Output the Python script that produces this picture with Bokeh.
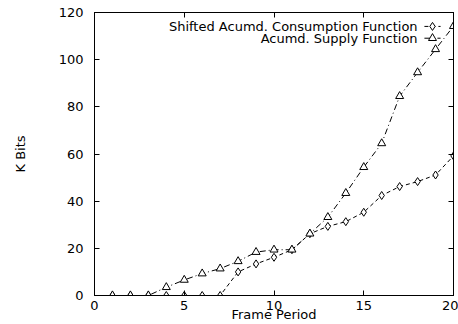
from bokeh.plotting import figure
from bokeh.models import LinearAxis, FixedTicker, Range1d, Label
from bokeh.embed import file_html
from bokeh.resources import INLINE

frames = list(range(1, 21))
consumption = [0, 0, 0, 0, 0, 0, 0, 10, 13.4, 16.2, 19.4, 26.2, 29.3, 31.3, 35.3, 42.4, 46.2, 48.3, 51.1, 59.2]
supply = [0, 0, 0, 3.5, 6.6, 9.3, 11.4, 14.5, 18.4, 19.4, 19.4, 26.2, 33.2, 43.4, 54.4, 64.5, 84.5, 94.6, 104.4, 114.2]
x_ticks = [0, 5, 10, 15, 20]
y_ticks = [0, 20, 40, 60, 80, 100, 120]
series_names = ["Shifted Acumd. Consumption Function", "Acumd. Supply Function"]

# legend layout (data units)
leg_text_x = 18.0
leg_ys = [114.1, 109.1]
leg_x0, leg_x1, leg_xm = 18.38, 19.28, 18.83

FONT = "DejaVu Sans"
FS = "13px"

p = figure(width=458, height=324, output_backend="svg", toolbar_location=None,
           x_range=Range1d(0, 20), y_range=Range1d(0, 120),
           min_border_left=94, min_border_right=5, min_border_top=12, min_border_bottom=28,
           x_axis_label="Frame Period", y_axis_label="K Bits")
p.outline_line_color = "black"
p.grid.visible = False
p.background_fill_color = "white"

for ax in p.xaxis + p.yaxis:
    ax.major_tick_in = 5
    ax.major_tick_out = 0
    ax.minor_tick_line_color = None
    ax.axis_line_color = "black"
    ax.major_label_text_font = FONT
    ax.major_label_text_font_size = FS
    ax.major_label_text_color = "black"
    ax.axis_label_text_font = FONT
    ax.axis_label_text_font_size = FS
    ax.axis_label_text_font_style = "normal"
    ax.axis_label_text_color = "black"
p.xaxis.ticker = FixedTicker(ticks=x_ticks)
p.yaxis.ticker = FixedTicker(ticks=y_ticks)
p.xaxis.major_label_standoff = 5
p.xaxis.axis_label_standoff = -6
p.yaxis.major_label_standoff = 11
p.yaxis.axis_label_standoff = 28

top = LinearAxis(ticker=FixedTicker(ticks=x_ticks), major_label_text_font_size="0px",
                 major_tick_in=5, major_tick_out=0, minor_tick_line_color=None)
right = LinearAxis(ticker=FixedTicker(ticks=y_ticks), major_label_text_font_size="0px",
                   major_tick_in=5, major_tick_out=0, minor_tick_line_color=None)
top.major_label_text_alpha = 0
right.major_label_text_alpha = 0
top.major_label_standoff = 0
right.major_label_standoff = 0
p.add_layout(top, "above")
p.add_layout(right, "right")

p.line(frames, consumption, line_color="black", line_width=1, line_dash="4 3")
p.scatter(frames, consumption, marker="diamond", size=8, fill_color="white", line_color="black")
p.line(frames, supply, line_color="black", line_width=1, line_dash="6 3 1 3")
p.scatter(frames, supply, marker="triangle", size=8, fill_color="white", line_color="black")

# custom legend (samples on the right of labels)
dashes = ["4 3", "6 3 1 3"]
markers = ["diamond", "triangle"]
for name, yy, dash, mk in zip(series_names, leg_ys, dashes, markers):
    p.add_layout(Label(x=leg_text_x, y=yy, text=name, text_align="right", text_baseline="middle",
                       text_font=FONT, text_font_size=FS, text_color="black"))
    p.line([leg_x0, leg_x1], [yy, yy], line_color="black", line_dash=dash)
    p.scatter([leg_xm], [yy], marker=mk, size=8, fill_color="white", line_color="black")

open("out.html", "w").write(file_html(p, INLINE))
